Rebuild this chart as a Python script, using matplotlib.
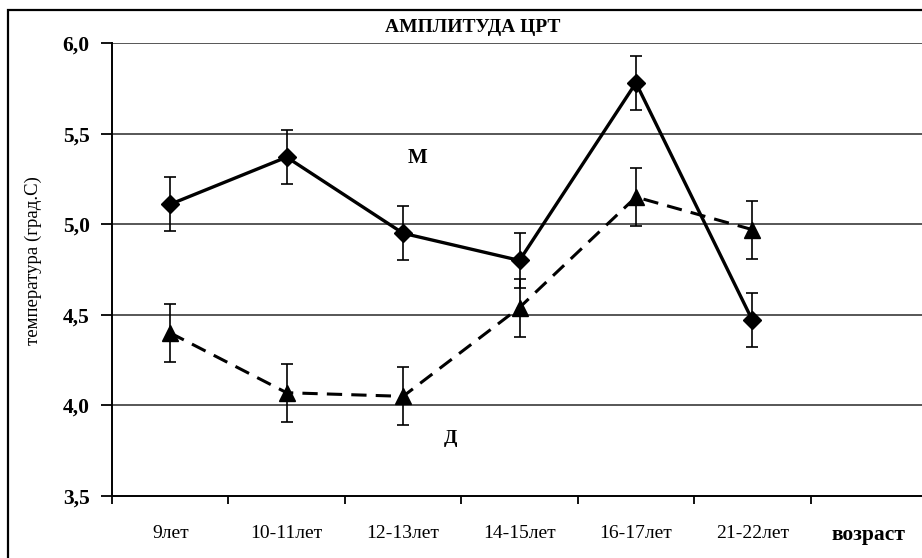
import matplotlib
matplotlib.use("Agg")
import matplotlib.pyplot as plt
from matplotlib.patches import Rectangle
import numpy as np

categories = ["9лет", "10-11лет", "12-13лет", "14-15лет", "16-17лет", "21-22лет"]
extra_label = "возраст"
m_values = [5.11, 5.37, 4.95, 4.80, 5.78, 4.47]
m_err = [0.15, 0.15, 0.15, 0.15, 0.15, 0.15]
d_values = [4.40, 4.07, 4.05, 4.54, 5.15, 4.97]
d_err = [0.16, 0.16, 0.16, 0.16, 0.16, 0.16]
yticks = [3.5, 4.0, 4.5, 5.0, 5.5, 6.0]

plt.rcParams['font.family'] = ['Liberation Serif', 'DejaVu Serif']

W, H = 922, 558
fig = plt.figure(figsize=(W / 100, H / 100), dpi=100)
ax = fig.add_axes([112 / W, 1 - 496 / H, (927 - 112) / W, (496 - 43) / H])

x = np.arange(len(categories)) + 0.5

for yv in yticks[1:]:
    ax.axhline(yv, color='#3a3a3a', lw=1.2, zorder=1)

ax.errorbar(x, m_values, yerr=m_err, fmt='none', ecolor='black', elinewidth=1.2,
            capsize=4.5, capthick=1.2, zorder=3)
ax.errorbar(x, d_values, yerr=d_err, fmt='none', ecolor='black', elinewidth=1.2,
            capsize=4.5, capthick=1.2, zorder=3)
ax.plot(x, m_values, '-', color='black', lw=2.4, marker='D', markersize=9, zorder=4)
ax.plot(x, d_values, color='black', lw=2.2, ls=(0, (5, 3)), marker='^', markersize=11, zorder=4)

ax.set_xlim(0, 7)
ax.set_ylim(3.5, 6.0)
ax.set_yticks(yticks)
ax.set_yticklabels([f"{v:.1f}".replace('.', ',') for v in yticks],
                   fontsize=15.5, fontweight='bold')
ax.set_xticks(np.arange(0, 7), minor=False)
ax.set_xticklabels([])
ax.set_xticks(list(x) + [6.5], minor=True)
ax.set_xticklabels(categories + [extra_label], minor=True, fontsize=14)
for lab in ax.get_xticklabels(minor=True):
    if lab.get_text() == extra_label:
        lab.set_fontweight('bold')
        lab.set_fontsize(15.5)
ax.tick_params(axis='x', which='minor', length=0, pad=21)
ax.tick_params(axis='x', which='major', direction='out', length=6, width=1.3)
ax.tick_params(axis='y', direction='out', length=8, width=1.3, pad=8)

for s in ['top', 'right']:
    ax.spines[s].set_visible(False)
for s in ['left', 'bottom']:
    ax.spines[s].set_linewidth(1.4)

ax.set_ylabel("температура (град.С)", fontsize=13.5)
ax.yaxis.set_label_coords(-0.086, 0.52)

ax.text(2.62, 5.365, "М", fontsize=15, fontweight='bold', ha='center', va='center')
ax.text(2.91, 3.815, "Д", fontsize=14, fontweight='bold', ha='center', va='center')

fig.text(473 / W, 1 - 28 / H, "АМПЛИТУДА ЦРТ", fontsize=14, fontweight='bold',
         ha='center', va='center')

fig.patches.append(Rectangle((8 / W, -0.05), (W + 20) / W, 1 - 10 / H + 0.05,
                             transform=fig.transFigure, fill=False,
                             edgecolor='black', lw=1.6))

fig.savefig("out.png", dpi=100)
